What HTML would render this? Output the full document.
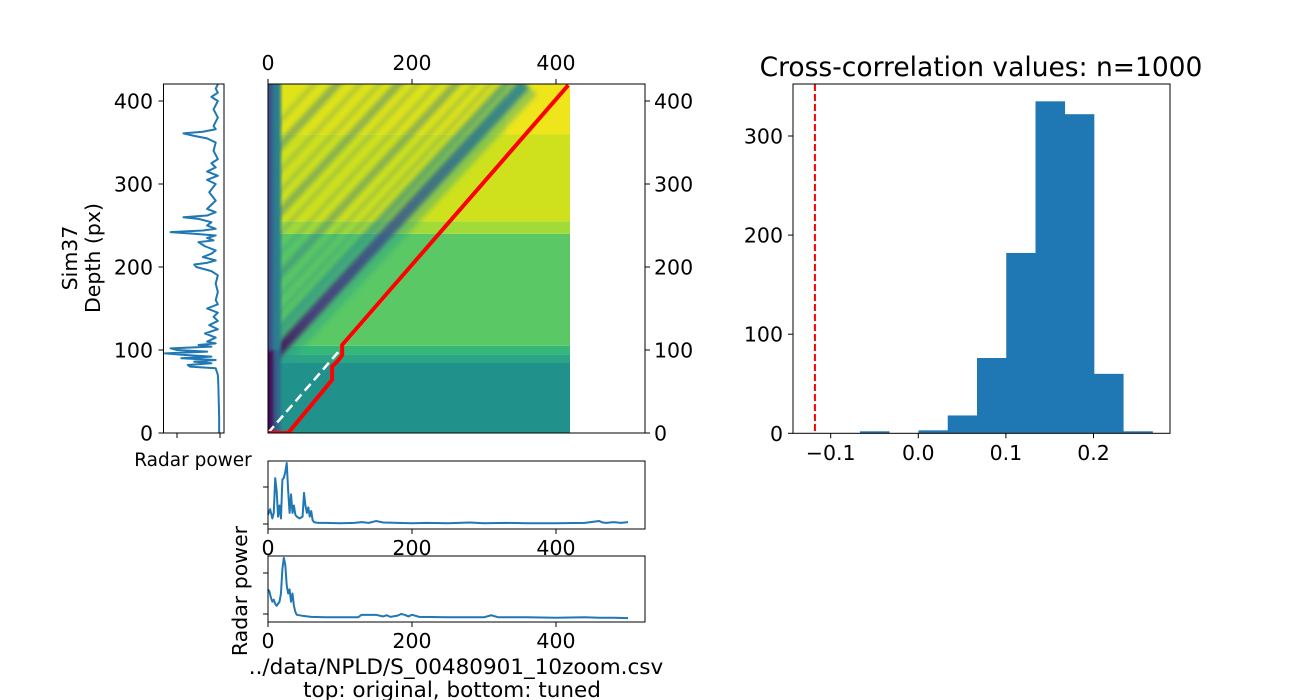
<!DOCTYPE html>
<html><head><meta charset="utf-8"><style>
html,body{margin:0;padding:0;background:#fff;}
svg{display:block;font-family:"DejaVu Sans","Liberation Sans",sans-serif;}
</style></head><body>
<svg id="fig" width="1300" height="700" viewBox="0 0 1300 700" xmlns="http://www.w3.org/2000/svg">
<defs>
<clipPath id="hmclip"><rect x="268" y="84" width="302" height="349"/></clipPath>
<filter id="blur" x="-10%" y="-10%" width="120%" height="120%"><feGaussianBlur stdDeviation="2.5"/></filter>
<filter id="blur2" x="-10%" y="-10%" width="120%" height="120%"><feGaussianBlur stdDeviation="1.5"/></filter>
<linearGradient id="mainband" x1="0" y1="1" x2="1" y2="0">
<stop offset="0" stop-color="#440154"/><stop offset="0.15" stop-color="#472d7b"/><stop offset="0.45" stop-color="#3b528b"/><stop offset="0.75" stop-color="#2c728e"/><stop offset="1" stop-color="#26828e"/>
</linearGradient>
</defs>
<g id="layer"></g>
</svg>
<script>
// ---------- data ----------
var depthTrace = [0,20,40,60,70,78,80,82,84,86,88,90,92,94,96,98,100,102,104,106,108,110,115,120,125,130,135,140,145,150,155,160,170,180,190,195,200,203,205,208,212,216,220,225,230,232,235,238,240,242,244,246,250,254,258,260,262,266,270,280,290,300,305,310,315,320,325,330,340,350,355,358,361,363,366,370,380,390,400,405,410,415,420];
var powerTrace = [0.02,0.02,0.03,0.04,0.05,0.1,0.7,0.75,0.2,0.6,0.1,0.9,0.2,0.8,1.28,0.3,1.0,1.15,0.2,0.5,0.1,0.3,0.1,0.35,0.05,0.25,0.05,0.15,0.05,0.3,0.05,0.1,0.05,0.1,0.05,0.2,0.55,0.6,0.3,0.1,0.4,0.2,0.1,0.35,0.5,0.15,0.3,0.1,0.6,1.15,0.4,0.1,0.3,0.2,0.5,0.85,0.3,0.1,0.3,0.1,0.25,0.1,0.3,0.05,0.3,0.1,0.2,0.05,0.15,0.1,0.3,0.6,0.85,0.4,0.1,0.15,0.05,0.15,0.05,0.2,0.05,0.1,0.05];
var origX = [0,3,6,8,10,12,14,16,18,20,22,24,26,28,30,32,34,36,38,40,44,48,50,52,54,56,58,60,62,64,66,70,80,100,120,130,140,150,160,180,200,220,250,280,300,330,360,400,440,460,465,470,480,490,500];
var origV = [0.25,0.4,0.15,0.3,1.24,0.9,0.2,0.5,0.15,1.2,1.25,1.4,1.65,0.9,0.3,0.8,0.3,0.5,0.25,0.2,0.15,0.2,0.84,0.5,0.3,0.45,0.2,0.35,0.1,0.05,0.04,0.03,0.03,0.02,0.03,0.05,0.03,0.08,0.04,0.03,0.02,0.03,0.02,0.04,0.02,0.03,0.02,0.02,0.03,0.08,0.04,0.03,0.05,0.03,0.05];
var tunedX = [0,2,4,6,8,10,12,14,16,18,20,22,24,26,28,30,32,34,36,38,40,50,60,80,100,125,130,140,150,160,165,170,180,185,190,195,200,210,250,300,310,320,360,400,440,460,480,500];
var tunedV = [0.6,0.55,0.4,0.3,0.35,0.25,0.2,0.25,0.3,0.5,1.1,1.37,1.2,0.7,0.5,0.6,0.3,0.5,0.2,0.05,-0.02,-0.05,-0.07,-0.08,-0.08,-0.08,-0.02,-0.02,-0.02,-0.06,-0.03,-0.07,-0.04,0.0,-0.02,-0.06,-0.02,-0.07,-0.08,-0.08,-0.03,-0.08,-0.08,-0.09,-0.08,-0.09,-0.09,-0.1];
var histCounts = [2,0,3,18,76,182,335,322,60,2];
var histStart = -0.0666;
var histWidth = 0.0334;
var threshold = -0.118;
var pathX = [0,28,89,89,98,103,103,417];
var pathY = [0,0,64,80,88,94,106,419];
var bandLo = [0,85,95,105,240,255,360];
var bandHi = [85,95,105,240,255,360,421];
var bandColor = ["#21918c","#2ba685","#35b779","#5ac864","#a2da37","#cfe11c","#dfe318"];
var depthTicks = [0,100,200,300,400];
var lagTicks = [0,200,400];
var histXTicks = [-0.1,0.0,0.1,0.2];
var histXLabels = ["\u22120.1","0.0","0.1","0.2"];
var histYTicks = [0,100,200,300];

// ---------- helpers ----------
var NS="http://www.w3.org/2000/svg";
var layer=document.getElementById('layer');
var FS=20.5;
function el(tag,attrs,parent,text){var e=document.createElementNS(NS,tag);for(var k in attrs)e.setAttribute(k,attrs[k]);if(text!==undefined)e.textContent=text;(parent||layer).appendChild(e);return e;}

function hx(v){return 268+v*0.72;}
function hy(v){return 433-v*0.83;}
function lx(p){return 220-p*43;}
function b1y(v){return 524-v*37;}
function b2y(v){return 614-v*41;}
function sx(v){return 918.3+v*876;}
function sy(v){return 433.3-v*0.991;}

// ---------- heatmap ----------
var hm=el('g',{'clip-path':'url(#hmclip)'});


for(var i=0;i<bandLo.length;i++){
  var r=el('rect',{x:hx(0),y:hy(bandHi[i]),width:hx(420)-hx(0),height:hy(bandLo[i])-hy(bandHi[i]),fill:bandColor[i]},hm);
  
  
}
el('rect',{x:hx(330),y:hy(421),width:hx(420)-hx(330),height:hy(360)-hy(421),fill:"#f1e51d",opacity:0.8},hm);
var bands=el('g',{filter:'url(#blur)'},hm);
var offs=[110,130,150,175,200,225,250,275,300,330,360];
for(var j=0;j<offs.length;j++){
  var ln=el('line',{x1:hx(0),y1:hy(offs[j]),x2:hx(420),y2:hy(offs[j]+395),stroke:"#2a788e",'stroke-width':(j%3==0?8:4),opacity:(j%3==0?0.45:0.3)},bands);
  
  
}
el('line',{x1:hx(7),y1:hy(92),x2:hx(357),y2:hy(421),stroke:"#2a9d8a",'stroke-width':32,opacity:0.4},bands);
var mb=el('line',{x1:hx(7),y1:hy(92),x2:hx(357),y2:hy(421),stroke:"url(#mainband)",'stroke-width':12,opacity:0.85},bands);


var lcg=el('g',{filter:'url(#blur2)'},hm);
var lc=el('rect',{x:hx(0)-5,y:hy(430),width:hx(18)-hx(0)+5,height:hy(0)-hy(430)+5,fill:"#2a7f8e"},lcg);


el('rect',{x:hx(0)-5,y:hy(430),width:10,height:hy(0)-hy(430)+5,fill:"#3b528b"},lcg);
el('rect',{x:hx(0)-5,y:hy(100),width:11,height:hy(0)-hy(100)+5,fill:"#440154",opacity:0.85},lcg);
el('rect',{x:hx(0)+6,y:hy(100),width:6,height:hy(0)-hy(100)+5,fill:"#3b528b",opacity:0.6},lcg);
var wl=el('line',{x1:hx(0),y1:hy(0),x2:hx(103),y2:hy(103),stroke:"#fff",'stroke-width':2.5,'stroke-dasharray':'9,5'},hm);


el('line',{x1:hx(103),y1:hy(103),x2:hx(420),y2:hy(420),stroke:"#fff",'stroke-width':1},hm);
var pts=[];for(var k=0;k<pathX.length;k++)pts.push(hx(pathX[k])+','+hy(pathY[k]));
var rp=el('polyline',{points:pts.join(' '),fill:'none',stroke:'#ff0000','stroke-width':4,'stroke-linejoin':'miter'},hm);


var hf=el('rect',{x:268,y:84,width:377,height:349,fill:'none',stroke:'#000','stroke-width':1});


lagTicks.forEach(function(t){
  el('line',{x1:hx(t),y1:84,x2:hx(t),y2:79,stroke:'#000'});
  var tt=el('text',{x:hx(t),y:70,'font-size':FS,'text-anchor':'middle'},layer,String(t));
  
  
});
depthTicks.forEach(function(t){
  el('line',{x1:645,y1:hy(t),x2:650,y2:hy(t),stroke:'#000'});
  var tt=el('text',{x:654,y:hy(t)+7.5,'font-size':FS},layer,String(t));
  
  
});

// ---------- left trace ----------
var lp=[];for(var a=0;a<depthTrace.length;a++)lp.push(lx(powerTrace[a])+','+hy(depthTrace[a]));
var lt=el('polyline',{points:lp.join(' '),fill:'none',stroke:'#1f77b4','stroke-width':2,'stroke-linejoin':'round'});


var lf=el('rect',{x:163.5,y:84,width:60.5,height:349,fill:'none',stroke:'#000'});


depthTicks.forEach(function(t){
  el('line',{x1:163.5,y1:hy(t),x2:158.5,y2:hy(t),stroke:'#000'});
  var tt=el('text',{x:153,y:hy(t)+7.5,'font-size':FS,'text-anchor':'end'},layer,String(t));
  
  
});
[0,1].forEach(function(p){el('line',{x1:lx(p),y1:433,x2:lx(p),y2:438,stroke:'#000'});});
var rl=el('text',{x:193,y:466,'font-size':18.5,'text-anchor':'middle'},layer,'Radar power');


var yl=el('text',{transform:'translate(77,258) rotate(-90)','font-size':FS,'text-anchor':'middle'},layer,'Sim37');


var yl2=el('text',{transform:'translate(100,258) rotate(-90)','font-size':FS,'text-anchor':'middle'},layer,'Depth (px)');



// ---------- bottom traces ----------
function bottom(xs,vs,yf,top,bot,name){
  var p=[];for(var i=0;i<xs.length;i++)p.push(hx(xs[i])+','+yf(vs[i]));
  var pl=el('polyline',{points:p.join(' '),fill:'none',stroke:'#1f77b4','stroke-width':2,'stroke-linejoin':'round'});
  
  
  var f=el('rect',{x:268,y:top,width:377,height:bot-top,fill:'none',stroke:'#000'});
  
  
  [0,1].forEach(function(v){el('line',{x1:268,y1:yf(v),x2:263,y2:yf(v),stroke:'#000'});});
  lagTicks.forEach(function(t){
    el('line',{x1:hx(t),y1:bot,x2:hx(t),y2:bot+5,stroke:'#000'});
    var tt=el('text',{x:hx(t),y:bot+26,'font-size':FS,'text-anchor':'middle'},layer,String(t));
    
    
  });
}
bottom(origX,origV,b1y,461,529,'original-trace');
bottom(tunedX,tunedV,b2y,556,622,'tuned-trace');
var rp2=el('text',{transform:'translate(247,591) rotate(-90)','font-size':FS,'text-anchor':'middle'},layer,'Radar power');


var c1=el('text',{x:456,y:674,'font-size':21.5,'text-anchor':'middle'},layer,'../data/NPLD/S_00480901_10zoom.csv');


var c2=el('text',{x:452,y:697,'font-size':21.5,'text-anchor':'middle'},layer,'top: original, bottom: tuned');



// ---------- histogram ----------
for(var b=0;b<histCounts.length;b++){
  var x0=sx(histStart+b*histWidth),x1=sx(histStart+(b+1)*histWidth);
  if(histCounts[b]<=0)continue;
  var br=el('rect',{x:x0,y:sy(histCounts[b]),width:x1-x0+0.3,height:sy(0)-sy(histCounts[b]),fill:'#1f77b4'});
  
  
}
var th=el('line',{x1:sx(threshold),y1:84,x2:sx(threshold),y2:433,stroke:'#ff0000','stroke-width':2,'stroke-dasharray':'7,3'});


var hfr=el('rect',{x:793,y:84,width:377,height:349.3,fill:'none',stroke:'#000'});


histXTicks.forEach(function(t,i){
  el('line',{x1:sx(t),y1:433.3,x2:sx(t),y2:438.3,stroke:'#000'});
  var tt=el('text',{x:sx(t),y:460,'font-size':FS,'text-anchor':'middle'},layer,histXLabels[i]);
  
  
});
histYTicks.forEach(function(t){
  el('line',{x1:793,y1:sy(t),x2:788,y2:sy(t),stroke:'#000'});
  var tt=el('text',{x:783,y:sy(t)+7.5,'font-size':FS,'text-anchor':'end'},layer,String(t));
  
  
});
var ti=el('text',{x:981,y:76,'font-size':26.5,'text-anchor':'middle'},layer,'Cross-correlation values: n=1000');


</script>
</body></html>
